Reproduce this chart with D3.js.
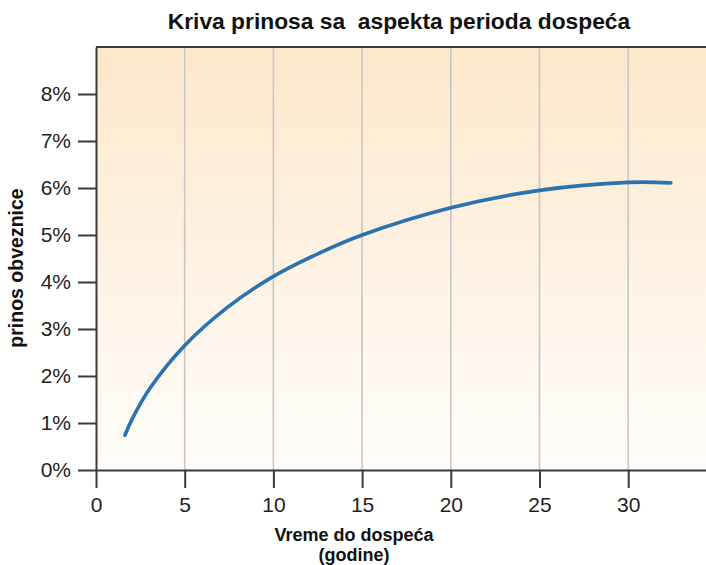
<!DOCTYPE html>
<html>
<head>
<meta charset="utf-8">
<script src="https://cdn.jsdelivr.net/npm/d3@7"></script>
<style>
  html, body { margin: 0; padding: 0; background: #fff; }
  svg { display: block; font-family: "Liberation Sans", Arial, sans-serif; }
</style>
</head>
<body>
<svg id="chart" width="706" height="565"></svg>
<script>
// Yield curve values
const maturityYears = [1.63, 2.1, 3.04, 5, 7.37, 10, 12.5, 15, 20, 25, 30, 32.4];
const yieldPct = [0.74, 1.13, 1.74, 2.65, 3.45, 4.12, 4.6, 5.0, 5.58, 5.95, 6.12, 6.11];

const xTicks = [0, 5, 10, 15, 20, 25, 30];
const yTicks = [0, 1, 2, 3, 4, 5, 6, 7, 8];

const titleText = 'Kriva prinosa sa\u00a0 aspekta perioda dospeća';
const xTitle = ['Vreme do dospeća', '(godine)'];
const yTitle = 'prinos obveznice';

// plot box
const plot = { left: 96, right: 706, top: 47, bottom: 470 };

const svg = d3.select('#chart');

const x = d3.scaleLinear()
  .domain([0, (plot.right - plot.left) / 17.74])
  .range([plot.left, plot.right]);

const y = d3.scaleLinear()
  .domain([0, 9])
  .range([plot.bottom, plot.top]);

// background gradient
const defs = svg.append('defs');
const grad = defs.append('linearGradient')
  .attr('id', 'bg')
  .attr('x1', 0).attr('y1', 0)
  .attr('x2', 0).attr('y2', 1);
grad.append('stop').attr('offset', '0%').attr('stop-color', '#fde7cb');
grad.append('stop').attr('offset', '100%').attr('stop-color', '#fffdfa');

svg.append('rect')
  .attr('x', plot.left)
  .attr('y', plot.top)
  .attr('width', plot.right - plot.left)
  .attr('height', plot.bottom - plot.top)
  .attr('fill', 'url(#bg)');

// vertical grid lines
svg.append('g')
  .selectAll('line')
  .data(xTicks.filter((d) => d > 0))
  .join('line')
  .attr('x1', (d) => x(d))
  .attr('x2', (d) => x(d))
  .attr('y1', plot.top)
  .attr('y2', plot.bottom)
  .attr('stroke', '#c9c7c5')
  .attr('stroke-width', 1.6);

// top border
svg.append('line')
  .attr('x1', plot.left)
  .attr('x2', plot.right)
  .attr('y1', plot.top)
  .attr('y2', plot.top)
  .attr('stroke', '#3a3a3a')
  .attr('stroke-width', 2);

// axes
const xAxis = svg.append('g')
  .attr('transform', `translate(0,${plot.bottom})`)
  .call(d3.axisBottom(x)
    .tickValues(xTicks)
    .tickSizeInner(18)
    .tickSizeOuter(0)
    .tickPadding(9));

const yAxis = svg.append('g')
  .attr('transform', `translate(${plot.left},0)`)
  .call(d3.axisLeft(y)
    .tickValues(yTicks)
    .tickFormat((d) => `${d}%`)
    .tickSizeInner(18)
    .tickSizeOuter(0)
    .tickPadding(7));

[xAxis, yAxis].forEach((g) => {
  g.select('.domain').attr('stroke', '#3a3a3a').attr('stroke-width', 2);
  g.selectAll('.tick line').attr('stroke', '#3a3a3a').attr('stroke-width', 2);
  g.selectAll('.tick text')
    .attr('fill', '#231f20')
    .style('font-size', '21px')
    .style('font-family', '"Liberation Sans", Arial, sans-serif');
});

// the curve
const line = d3.line()
  .x((d) => x(d[0]))
  .y((d) => y(d[1]))
  .curve(d3.curveCatmullRom.alpha(0.5));

svg.append('path')
  .datum(maturityYears.map((m, i) => [m, yieldPct[i]]))
  .attr('d', line)
  .attr('fill', 'none')
  .attr('stroke', '#2a72b0')
  .attr('stroke-width', 3.6)
  .attr('stroke-linecap', 'round');

// titles
svg.append('text')
  .attr('x', 399)
  .attr('y', 29)
  .attr('text-anchor', 'middle')
  .style('font-size', '22.8px')
  .style('font-weight', 'bold')
  .attr('fill', '#111')
  .text(titleText);

svg.append('text')
  .attr('text-anchor', 'middle')
  .style('font-size', '18px')
  .style('font-weight', 'bold')
  .attr('fill', '#111')
  .selectAll('tspan')
  .data(xTitle)
  .join('tspan')
  .attr('x', 354)
  .attr('y', (d, i) => 541 + i * 20)
  .text((d) => d);

svg.append('text')
  .attr('transform', 'translate(23,268) rotate(-90)')
  .attr('text-anchor', 'middle')
  .style('font-size', '19.5px')
  .style('font-weight', 'bold')
  .attr('fill', '#111')
  .text(yTitle);
</script>
</body>
</html>
